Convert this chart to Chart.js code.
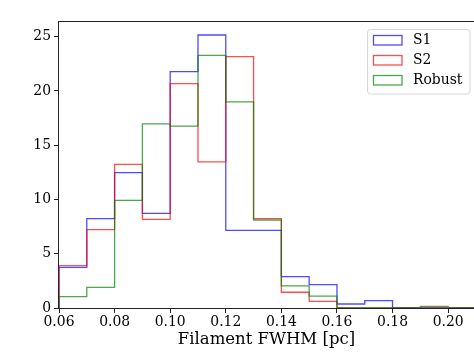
<!DOCTYPE html>
<html>
<head>
<meta charset="utf-8">
<script src="https://cdn.jsdelivr.net/npm/chart.js@4"></script>
<style>
  html, body { margin: 0; padding: 0; background: #fff; }
  #wrap { width: 474px; height: 358px; }
</style>
</head>
<body>
<div id="wrap"><canvas id="hist" width="474" height="358"></canvas></div>
<script>
// bin edges (0.01 pc wide)
const EDGES = [0.06, 0.07, 0.08, 0.09, 0.10, 0.11, 0.12, 0.13, 0.14, 0.15, 0.16, 0.17, 0.18, 0.19, 0.20, 0.21];
const S1 = [3.75, 8.23, 12.47, 8.72, 21.78, 25.16, 7.16, 7.16, 2.89, 2.15, 0.37, 0.68, 0, 0, 0];
const S2 = [3.9, 7.22, 13.24, 8.17, 20.67, 13.46, 23.17, 8.23, 1.45, 0.61, 0, 0, 0, 0, 0];
const ROBUST = [1.04, 1.9, 9.92, 16.96, 16.77, 23.29, 18.99, 8.11, 2.03, 1.1, 0, 0, 0, 0.15, 0];

const LABELS = ["S1", "S2", "Robust"];
const X_TICKS = [0.06, 0.08, 0.10, 0.12, 0.14, 0.16, 0.18, 0.20];
const Y_TICKS = [0, 5, 10, 15, 20, 25];

const COLORS = ["rgba(0,0,255,0.7)", "rgba(255,0,0,0.7)", "rgba(0,128,0,0.7)"];
const FONT = "'DejaVu Serif', serif";

// matplotlib-style step outline: up from 0 at first edge, down to 0 at last edge
function stepPoints(vals) {
  const pts = [{ x: EDGES[0], y: 0 }];
  vals.forEach((v, i) => pts.push({ x: EDGES[i], y: v }));
  pts.push({ x: EDGES[vals.length], y: vals[vals.length - 1] });
  pts.push({ x: EDGES[vals.length], y: 0 });
  return pts;
}

const series = [S1, S2, ROBUST];

const frameAndLegend = {
  id: "frameAndLegend",
  afterDraw(chart) {
    const ctx = chart.ctx;
    const a = chart.chartArea;
    ctx.save();
    ctx.strokeStyle = "#222";
    ctx.lineWidth = 1;
    ctx.strokeRect(a.left - 0.5, a.top + 0.5, a.right - a.left + 1, a.bottom - a.top);

    // legend box
    const bx = 367.5, by = 29.5, bw = 102.5, bh = 64.5, r = 3;
    ctx.beginPath();
    ctx.moveTo(bx + r, by);
    ctx.arcTo(bx + bw, by, bx + bw, by + bh, r);
    ctx.arcTo(bx + bw, by + bh, bx, by + bh, r);
    ctx.arcTo(bx, by + bh, bx, by, r);
    ctx.arcTo(bx, by, bx + bw, by, r);
    ctx.closePath();
    ctx.fillStyle = "rgba(255,255,255,0.8)";
    ctx.fill();
    ctx.strokeStyle = "#d6d6d6";
    ctx.stroke();

    ctx.font = "13.9px " + FONT;
    ctx.textBaseline = "middle";
    ctx.textAlign = "left";
    LABELS.forEach((lab, i) => {
      const y = 35.5 + i * 20;
      ctx.strokeStyle = COLORS[i];
      ctx.lineWidth = 1.3;
      ctx.strokeRect(373.5, y, 28.5, 9.5);
      ctx.fillStyle = "#000";
      ctx.fillText(lab, 413, y + 5);
    });
    ctx.restore();
  }
};

new Chart(document.getElementById("hist"), {
  type: "line",
  data: {
    datasets: series.map((vals, i) => ({
      label: LABELS[i],
      data: stepPoints(vals),
      borderColor: COLORS[i],
      borderWidth: 1.3,
      fill: false,
      stepped: "before",
      pointRadius: 0,
      order: 3 - i,
    })),
  },
  options: {
    responsive: false,
    animation: false,
    events: [],
    layout: { padding: { top: 21, right: 0, bottom: 0, left: 0 } },
    plugins: { legend: { display: false }, tooltip: { enabled: false } },
    scales: {
      x: {
        type: "linear",
        min: 0.06,
        max: 0.2093,
        afterBuildTicks: (s) => { s.ticks = X_TICKS.map((v) => ({ value: v })); },
        afterFit: (s) => { s.height = 50; },
        ticks: {
          color: "#000",
          font: { family: FONT, size: 13.9 },
          padding: 1,
          maxRotation: 0,
          autoSkip: false,
          callback: (v) => v.toFixed(2),
        },
        grid: { drawOnChartArea: false, drawTicks: true, tickLength: 5, tickColor: "#222" },
        border: { display: false },
        title: {
          display: true,
          text: "Filament FWHM [pc]",
          color: "#000",
          font: { family: FONT, size: 16.5 },
          padding: { top: 0, bottom: 8 },
        },
      },
      y: {
        min: 0,
        max: 26.45,
        afterBuildTicks: (s) => { s.ticks = Y_TICKS.map((v) => ({ value: v })); },
        afterFit: (s) => { s.width = 59; },
        ticks: {
          color: "#000",
          font: { family: FONT, size: 13.9 },
          padding: 3,
        },
        grid: { drawOnChartArea: false, drawTicks: true, tickLength: 5, tickColor: "#222" },
        border: { display: false },
      },
    },
  },
  plugins: [frameAndLegend],
});
</script>
</body>
</html>
